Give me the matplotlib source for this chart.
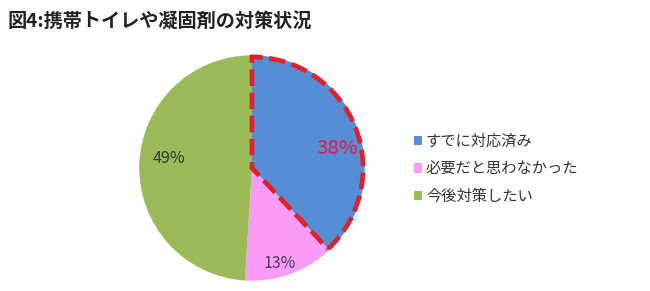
import matplotlib.pyplot as plt
from matplotlib.patches import Wedge, Patch

plt.rcParams['font.family'] = ['Noto Sans CJK JP', 'DejaVu Sans']

# データ
labels = ['すでに対応済み', '必要だと思わなかった', '今後対策したい']
values = [38, 13, 49]
colors = ['#558ED5', '#F99CF5', '#9BBB59']
pct_colors = ['#D8245A', '#4A3A5A', '#333333']
title = '図4:携帯トイレや凝固剤の対策状況'

fig = plt.figure(figsize=(6.5, 2.91), dpi=100)
fig.text(8 / 650, 1 - 22 / 291, title, fontsize=13.8, fontweight='bold',
         va='center', ha='left', color='#222222')

# 円グラフ
cx, cy, r = 252, 291 - 168, 115
ax = fig.add_axes([(cx - r) / 650, (cy - r) / 291, 2 * r / 650, 2 * r / 291])
wedges, _ = ax.pie(values, colors=colors, startangle=90, counterclock=False,
                   radius=1)
ax.set_xlim(-1.02, 1.02)
ax.set_ylim(-1.02, 1.02)
ax.set_aspect('equal')
ax.axis('off')

# 赤い点線で強調
w0 = wedges[0]
ax.add_patch(Wedge((0, 0), 0.985, w0.theta1, w0.theta2, fill=False,
                   edgecolor='#E3202A', linewidth=3.4, linestyle=(0, (3.5, 1.4)),
                   joinstyle='miter'))

# パーセント表示
pct_pos = [(0.76, 0.17), (0.25, -0.85), (-0.74, 0.08)]
for v, (x, y), c, fs in zip(values, pct_pos, pct_colors, [14.5, 11.5, 11.5]):
    ax.text(x, y, f'{v}%', ha='center', va='center', fontsize=fs, color=c,
            fontweight='medium' if v == 38 else 'normal')

# 凡例
handles = [Patch(facecolor=c, edgecolor='none') for c in colors]
fig.legend(handles, labels, loc='center left', bbox_to_anchor=(400 / 650, 1 - 169 / 291),
           frameon=False, fontsize=11, handlelength=0.55, handleheight=0.55,
           handletextpad=0.25, labelspacing=0.7, labelcolor='#333333')

fig.savefig('out.png', dpi=100)
